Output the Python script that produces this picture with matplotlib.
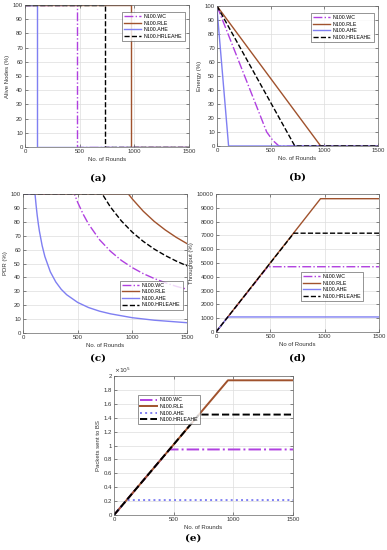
import matplotlib
matplotlib.use('Agg')
import matplotlib.pyplot as plt
from matplotlib.ticker import FuncFormatter

# ── data ──────────────────────────────────────────────────────────────────────

names = ['N100.WC', 'N100.RLE', 'N100.AHE', 'N100.HRLEAHE']

# (a) alive nodes
alive_x = {
    'N100.WC': [0, 480, 480, 1500],
    'N100.RLE': [0, 965, 965, 1500],
    'N100.AHE': [0, 112, 112, 1500],
    'N100.HRLEAHE': [0, 728, 728, 1500],
}
alive_y = {
    'N100.WC': [100, 100, 0, 0],
    'N100.RLE': [100, 100, 0, 0],
    'N100.AHE': [100, 100, 0, 0],
    'N100.HRLEAHE': [100, 100, 0, 0],
}

# (b) energy
energy_x = {
    'N100.WC': [0, 463, 520, 577, 1500],
    'N100.RLE': [0, 966, 1500],
    'N100.AHE': [0, 108, 1500],
    'N100.HRLEAHE': [0, 725, 1500],
}
energy_y = {
    'N100.WC': [100, 10, 4, 0, 0],
    'N100.RLE': [100, 0, 0],
    'N100.AHE': [98, 0, 0],
    'N100.HRLEAHE': [100, 0, 0],
}

# (c) packet delivery ratio
pdr_x = {
    'N100.WC': [0, 470, 500, 550, 600, 700, 800, 900, 1000, 1100, 1200, 1300, 1400, 1500],
    'N100.RLE': [0, 964, 1000, 1100, 1200, 1300, 1400, 1500],
    'N100.AHE': [0, 110, 120, 130, 140, 150, 175, 200, 250, 300, 350, 400, 500, 600, 700,
                 800, 1000, 1200, 1500],
    'N100.HRLEAHE': [0, 725, 800, 900, 1000, 1100, 1200, 1300, 1400, 1500],
}
pdr_y = {
    'N100.WC': [100, 100, 94, 85.5, 78.3, 67.1, 58.8, 52.2, 47, 42.7, 39.2, 36.2, 33.6, 31.5],
    'N100.RLE': [100, 100, 96.4, 87.6, 80.3, 74.2, 68.9, 64.3],
    'N100.AHE': [100, 100, 91.7, 84.6, 78.6, 73.3, 62.9, 55, 44, 36.7, 31.4, 27.5, 22, 18.3,
                 15.7, 13.8, 11, 9.2, 7.4],
    'N100.HRLEAHE': [100, 100, 90.6, 80.6, 72.5, 65.9, 60.4, 55.8, 51.8, 48.3],
}

# (d) throughput
thr_x = {
    'N100.WC': [0, 477, 1500],
    'N100.RLE': [0, 962, 1500],
    'N100.AHE': [0, 110, 1500],
    'N100.HRLEAHE': [0, 716, 1500],
}
thr_y = {
    'N100.WC': [0, 4730, 4730],
    'N100.RLE': [0, 9660, 9660],
    'N100.AHE': [0, 1090, 1090],
    'N100.HRLEAHE': [0, 7160, 7160],
}

# (e) packets sent to BS
pkt_x = {
    'N100.WC': [0, 465, 1500],
    'N100.RLE': [0, 955, 1500],
    'N100.AHE': [0, 106, 1500],
    'N100.HRLEAHE': [0, 712, 1500],
}
pkt_y = {
    'N100.WC': [0, 94300, 94300],
    'N100.RLE': [0, 193800, 193800],
    'N100.AHE': [0, 21500, 21500],
    'N100.HRLEAHE': [0, 144500, 144500],
}

# ── styles ────────────────────────────────────────────────────────────────────

colors = {'N100.WC': '#b040e0', 'N100.RLE': '#a0522d',
          'N100.AHE': '#7f7ff2', 'N100.HRLEAHE': 'black'}
styles = {'N100.WC': '-.', 'N100.RLE': '-', 'N100.AHE': '-', 'N100.HRLEAHE': '--'}
styles_e = {'N100.WC': '-.', 'N100.RLE': '-', 'N100.AHE': ':', 'N100.HRLEAHE': '--'}

plt.rcParams['font.family'] = ['Liberation Sans', 'DejaVu Sans']

W, H = 387, 550
fig = plt.figure(figsize=(W / 100, H / 100), dpi=100)


def px_axes(l, t, r, b):
    return fig.add_axes([l / W, 1 - b / H, (r - l) / W, (b - t) / H])


def style_axes(ax, ylim, yticks, xlabel, ylabel):
    ax.set_xlim(0, 1500)
    ax.set_xticks([0, 500, 1000, 1500])
    ax.set_ylim(*ylim)
    ax.set_yticks(yticks)
    ax.grid(True, color='#dddddd', linewidth=0.5)
    ax.set_axisbelow(True)
    ax.tick_params(direction='in', length=2, width=0.4, labelsize=4.3, pad=1.5,
                   top=True, right=True, colors='#333333')
    for s in ax.spines.values():
        s.set_linewidth(0.5)
        s.set_color('#666666')
    ax.set_xlabel(xlabel, fontsize=4.3, labelpad=2, color='#333333')
    ax.set_ylabel(ylabel, fontsize=4.3, labelpad=2, color='#333333')


def draw(ax, xs, ys, st, lw):
    for n in names:
        ax.plot(xs[n], ys[n], st[n], color=colors[n], lw=lw, label=n)


def legend(ax, loc, anchor):
    leg = ax.legend(loc=loc, bbox_to_anchor=anchor, fontsize=3.8, frameon=True,
                    fancybox=False, edgecolor='#444444', handlelength=3.2,
                    borderpad=0.4, labelspacing=0.3, handletextpad=0.5)
    leg.get_frame().set_linewidth(0.5)


# (a)
ax = px_axes(25, 5, 189, 147)
draw(ax, alive_x, alive_y, styles, 1.0)
style_axes(ax, (0, 100), range(0, 101, 10), 'No. of Rounds', 'Alive Nodes (%)')
legend(ax, 'upper right', (0.99, 0.97))

# (b)
ax = px_axes(217, 6, 378, 146)
draw(ax, energy_x, energy_y, styles, 1.0)
style_axes(ax, (0, 100), range(0, 101, 10), 'No. of Rounds', 'Energy (%)')
legend(ax, 'upper right', (0.99, 0.97))

# (c)
ax = px_axes(23, 194, 187, 333)
draw(ax, pdr_x, pdr_y, styles, 1.0)
style_axes(ax, (0, 100), range(0, 101, 10), 'No. of Rounds', 'PDR (%)')
legend(ax, 'lower right', (0.99, 0.15))

# (d)
ax = px_axes(216, 194, 379, 332)
draw(ax, thr_x, thr_y, styles, 1.0)
style_axes(ax, (0, 10000), range(0, 10001, 1000), 'No of Rounds', 'Throughput (%)')
legend(ax, 'center right', (0.92, 0.33))

# (e)
ax = px_axes(114, 376, 293, 515)
draw(ax, pkt_x, pkt_y, styles_e, 1.4)
style_axes(ax, (0, 200000), range(0, 200001, 20000), 'No. of Rounds', 'Packets sent to BS')
ax.yaxis.set_major_formatter(FuncFormatter(lambda v, p: f'{v / 1e5:g}'))
ax.text(0.0, 1.01, r'$\times10^5$', transform=ax.transAxes, fontsize=4.3,
        va='bottom', ha='left', color='#333333')
legend(ax, 'upper left', (0.12, 0.88))

# panel letters
for lab, x, y in [('(a)', 98, 178), ('(b)', 297, 177), ('(c)', 98, 358),
                  ('(d)', 297, 358), ('(e)', 193, 538)]:
    fig.text(x / W, 1 - y / H, lab, ha='center', va='center', fontsize=7.5,
             fontweight='bold', family='DejaVu Serif')

fig.savefig('out.png', dpi=100)
